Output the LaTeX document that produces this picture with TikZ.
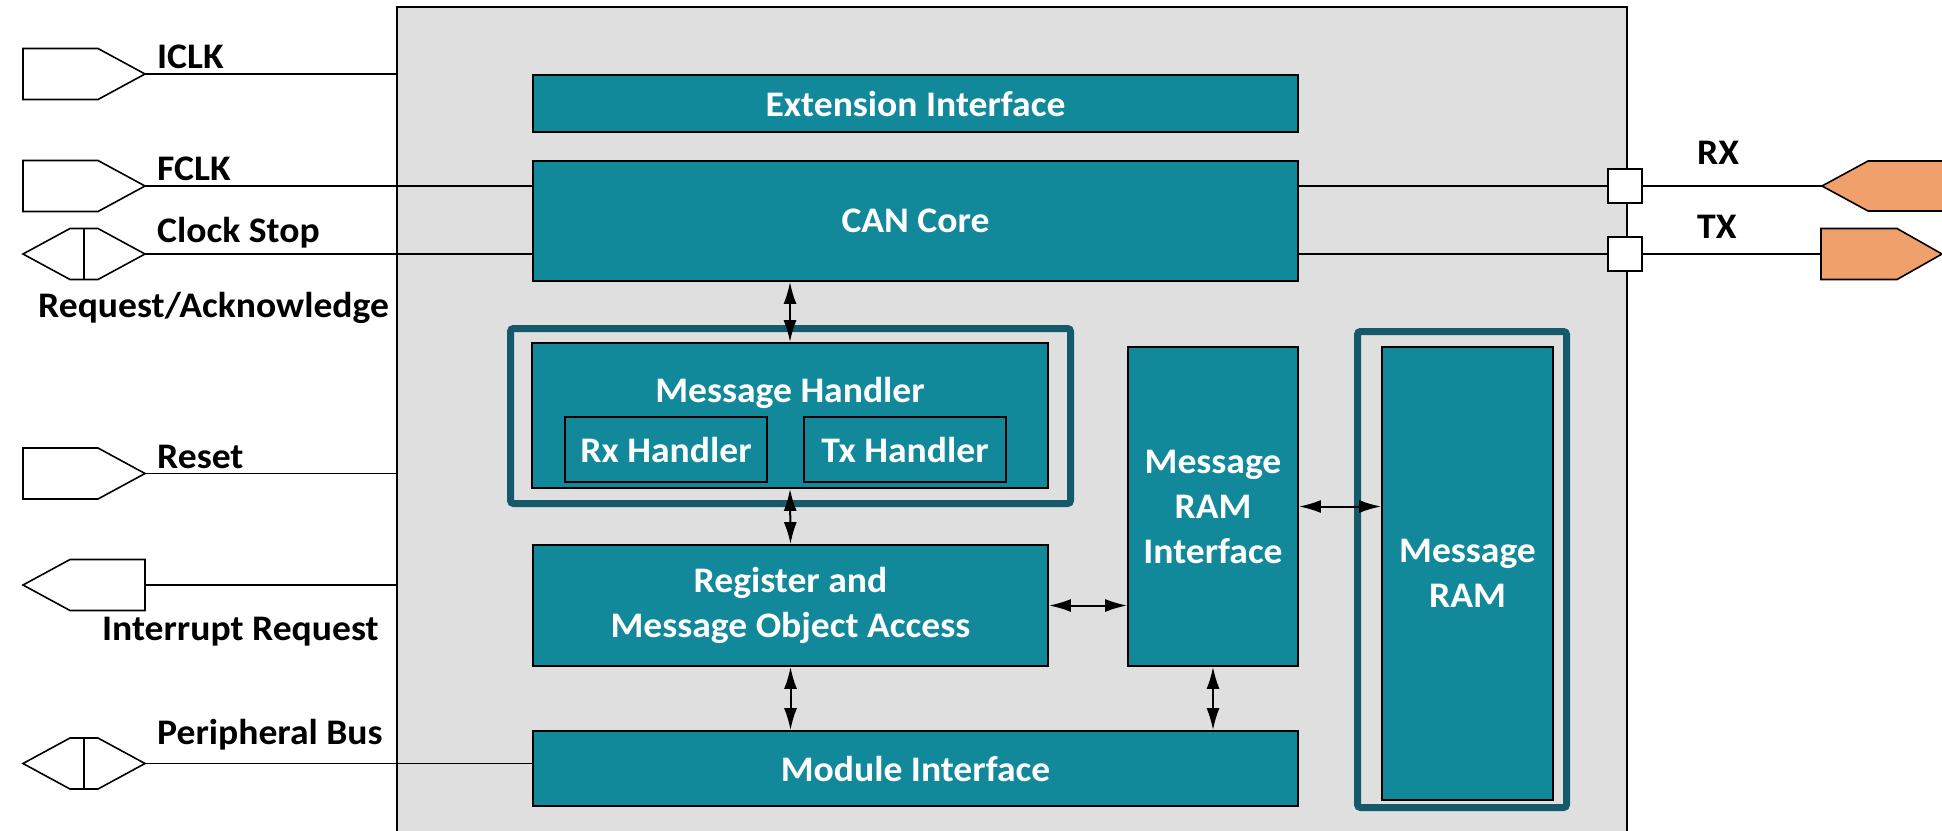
\documentclass[tikz,border=0pt]{standalone}
\usepackage{fontspec}
\setmainfont{Carlito}[FakeStretch=1.045]
\usetikzlibrary{arrows.meta,calc}
\definecolor{canteal}{HTML}{12899A}
\definecolor{canframe}{HTML}{155A6B}
\definecolor{chipgray}{HTML}{DFDFDF}
\definecolor{pinorange}{HTML}{F0A06A}
\begin{document}
\begin{tikzpicture}[x=1pt,y=-1pt,
    every node/.style={font=\bfseries\fontsize{36}{45}\selectfont,inner sep=0pt},
    blk/.style={draw,line width=1.8pt,fill=canteal,text=white,align=center},
    frm/.style={draw=canframe,line width=7pt,rounded corners=3pt},
    pin/.style={draw,line width=1.6pt,fill=white,line join=miter},
    port/.style={draw,line width=2pt,fill=white,minimum size=34pt},
    wire/.style={line width=1.6pt},
    io/.style={line width=2pt,>={Latex[length=22pt,width=13pt]},<->}]
  \path[use as bounding box] (0,0) rectangle (1942,830);
  \clip (0,0) rectangle (1942,830);
  \node[fill=chipgray,draw,line width=2pt,minimum width=1230pt,minimum height=833pt] (chip) at (1012,423.5) {};

  \node[blk,minimum width=765pt,minimum height=57pt] (ext) at (915.5,103.5) {Extension Interface};
  \node[blk,minimum width=765pt,minimum height=120pt] (can) at (915.5,221) {CAN Core};

  \draw[frm] (510.5,328.5) rectangle (1070.5,503.5);
  \node[blk,minimum width=516pt,minimum height=145pt] (mh) at (790,415.5) {};
  \node[text=white,anchor=base] (mhtitle) at (790,402) {Message Handler};
  \node[blk,minimum width=202pt,minimum height=65pt] (rxh) at (666,449.5) {Rx Handler};
  \node[blk,minimum width=202pt,minimum height=65pt] (txh) at (905,449.5) {Tx Handler};

  \node[blk,minimum width=515pt,minimum height=121pt] (reg) at (790.5,605.5) {Register and\\Message Object Access};
  \node[blk,minimum width=170pt,minimum height=319pt] (mri) at (1213,506.5) {Message\\RAM\\Interface};
  \node[blk,minimum width=765pt,minimum height=75pt] (mod) at (915.5,768.5) {Module Interface};

  \draw[frm] (1357.5,331.5) rectangle (1566.5,807.5);
  \node[blk,minimum width=171pt,minimum height=453pt] (ram) at (1467.5,573.5) {Message\\RAM};

  \draw[io] (mh.north |- can.south) -- (mh.north);
  \draw[io] (mh.south) -- (reg.north);
  \draw[io] (reg.south) -- (reg.south |- mod.north);
  \draw[io] (mri.south) -- (mri.south |- mod.north);
  \draw[io] (reg.east) -- (reg.east -| mri.west);
  \draw[io] (mri.east) -- (mri.east -| ram.west);

  % pins on the left
  \coordinate (iclk) at (145,74);
  \coordinate (fclk) at (145,186);
  \coordinate (cstop) at (145,254);
  \coordinate (rst) at (145,473.5);
  \coordinate (irq) at (145,585);
  \coordinate (pbus) at (145,763.5);

  \foreach \p in {iclk,fclk,rst}
    \draw[pin] (\p) -- ++(-47,-25.5) -- ++(-75,0) -- ++(0,51) -- ++(75,0) -- cycle;
  \foreach \p in {cstop,pbus} {
    \draw[pin] (\p) -- ++(-47,-25.5) -- ++(-28,0) -- ++(-47,25.5) -- ++(47,25.5) -- ++(28,0) -- cycle;
    \draw[wire] ($(\p)+(-61,-25.5)$) -- ++(0,51);
  }
  \draw[pin] (irq) -- ++(0,-25.5) -- ++(-75,0) -- ++(-47,25.5) -- ++(47,25.5) -- ++(75,0) -- cycle;

  \draw[wire] (iclk) -- (iclk -| chip.west);
  \draw[wire] (fclk) -- (fclk -| can.west);
  \draw[wire] (cstop) -- (cstop -| can.west);
  \draw[wire] (rst) -- (rst -| chip.west);
  \draw[wire] (irq) -- (irq -| chip.west);
  \draw[wire] (pbus) -- (pbus -| mod.west);

  \node[anchor=base west] (iclklbl) at (157,68) {ICLK};
  \node[anchor=base west] (fclklbl) at (157,180) {FCLK};
  \node[anchor=base west] (cstoplbl) at (157,242) {Clock Stop};
  \node[anchor=base west] (reqlbl) at (38,317) {Request/Acknowledge};
  \node[anchor=base west] (rstlbl) at (157,468) {Reset};
  \node[anchor=base west] (irqlbl) at (102,640) {Interrupt Request};
  \node[anchor=base west] (pbuslbl) at (157,744) {Peripheral Bus};

  % CAN bus pins on the right
  \node[port] (rxport) at (1625,186) {};
  \node[port] (txport) at (1625,254) {};
  \coordinate (rx) at (1822,186);
  \coordinate (tx) at (1821,254);
  \draw[pin,fill=pinorange] (rx) -- ++(46,-25) -- ++(200,0) -- ++(0,50) -- ++(-200,0) -- cycle;
  \draw[pin,fill=pinorange] (tx) -- ++(0,-25.5) -- ++(76,0) -- ++(45,25.5) -- ++(-45,25.5) -- ++(-76,0) -- cycle;
  \draw[wire] (can.east |- rxport) -- (rxport) -- (rx);
  \draw[wire] (can.east |- txport) -- (txport) -- (tx);
  \node[anchor=base west] (rxlbl) at (1697,164) {RX};
  \node[anchor=base west] (txlbl) at (1697,238) {TX};
\end{tikzpicture}
\end{document}
